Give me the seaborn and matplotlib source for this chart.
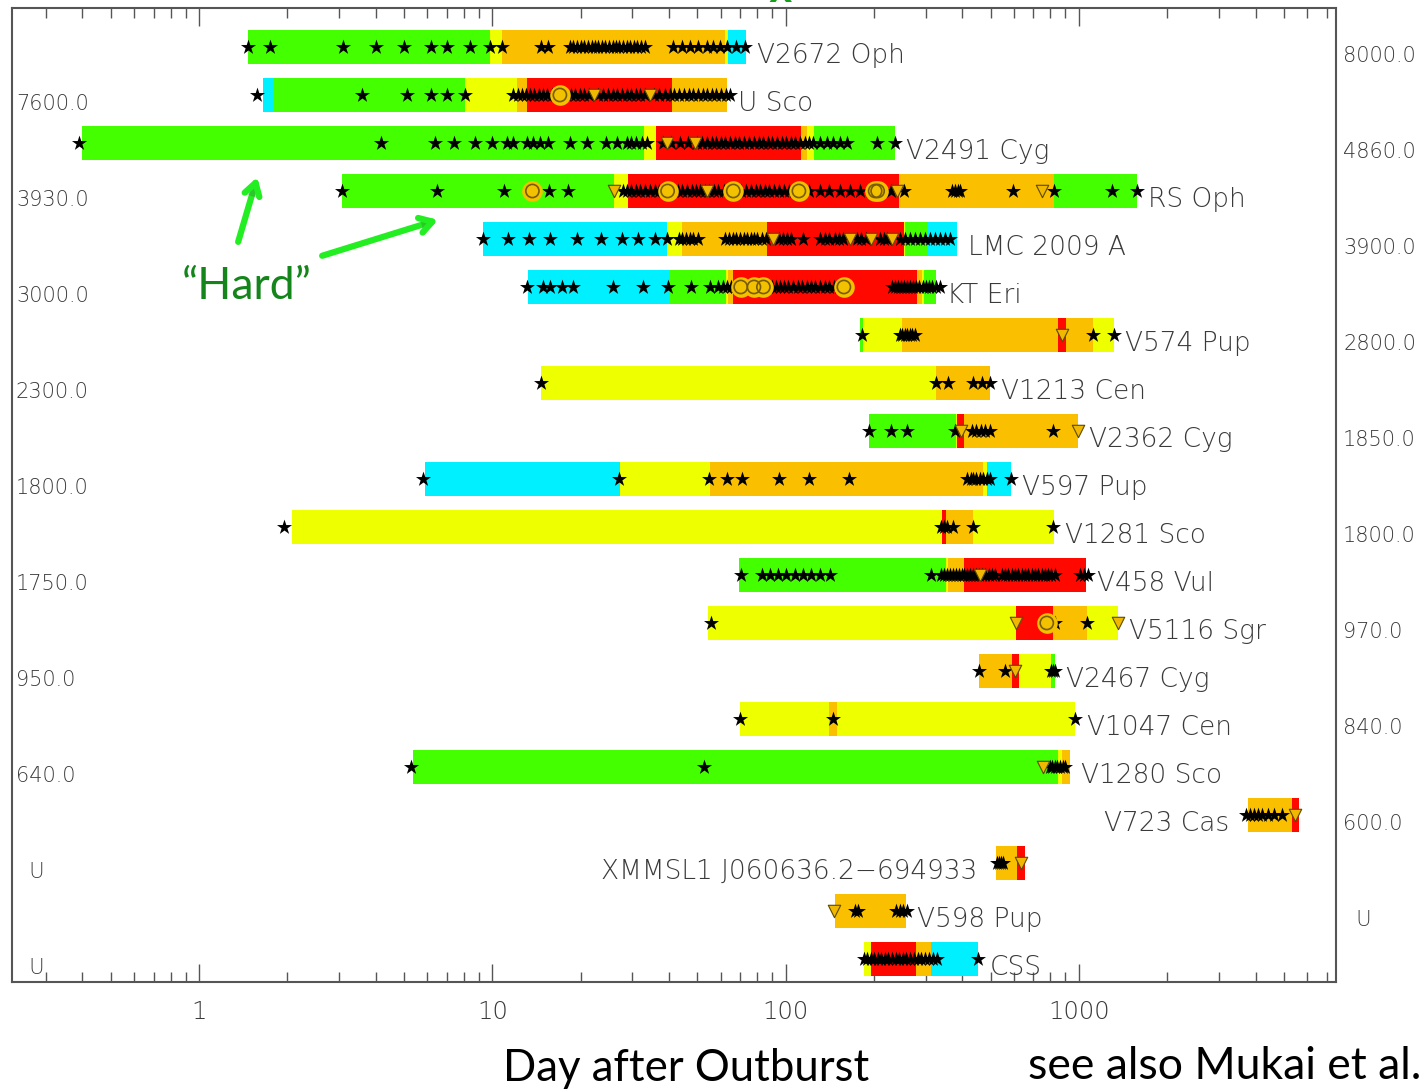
"""
plot.py - Supersoft X-ray phases of novae vs. day after outburst.
"""
import pandas as pd
import matplotlib
matplotlib.use('Agg')
import matplotlib.pyplot as plt
import matplotlib.ticker as mticker
import matplotlib.patheffects as pe
import seaborn as sns

# -- phase colours --
PHASE_COLORS = {'G': '#44ff00', 'Y': '#eeff00', 'O': '#fac000',
                'R': '#ff0800', 'C': '#00f0ff'}

# -- per nova data: segment edges (days), phase codes, marker days --
V2672_OPH_EDGES = [1.47, 9.8, 10.8, 62, 63.5, 73]
V2672_OPH_PHASES = ['G', 'Y', 'O', 'Y', 'C']
V2672_OPH_STARS = [1.47, 1.74, 3.1, 4.0, 5.0, 6.2, 7.0, 8.4, 9.8, 10.8, 14.7, 15.5,
                   18.4, 18.9, 19.5, 20.0, 20.6, 21.2, 21.8, 22.4, 23.0, 23.6, 24.3,
                   25.0, 25.7, 26.4, 27.1, 27.9, 28.7, 29.5, 30.3, 31.2, 32.1, 33.2,
                   41.3, 44.2, 47.2, 50.4, 53.8, 56.7, 59.7, 63, 68, 72.7]

U_SCO_EDGES = [1.65, 1.80, 8.1, 12.1, 13.1, 41.1, 63.3]
U_SCO_PHASES = ['C', 'G', 'Y', 'O', 'R', 'O']
U_SCO_STARS = [1.58, 3.6, 5.1, 6.2, 7.0, 8.1,
               11.8, 12.2, 12.6, 13.0, 13.4, 13.9, 14.4, 14.9, 15.4, 16.0, 16.6,
               17.8, 18.5, 19.2, 19.9, 20.6, 21.4, 23.0, 23.9, 24.8, 25.7, 26.7,
               27.7, 28.7, 29.8, 30.9, 32.0, 33.2, 35.7, 37.0, 38.9, 40.3, 41.8,
               43.4, 45.0, 46.7, 48.4, 50.2, 52.1, 54.0, 56.0, 58.1, 60.3, 62.5, 64.6]
U_SCO_TRI = [22.3, 34.5]
U_SCO_CIRC = [17.0]

V2491_CYG_EDGES = [0.40, 32.9, 36.2, 112.6, 118.6, 125, 236]
V2491_CYG_PHASES = ['G', 'Y', 'R', 'O', 'Y', 'G']
V2491_CYG_STARS = [0.39, 4.17, 6.38, 7.42, 8.73, 9.95, 11.2, 11.8, 13.1, 13.8, 14.5,
                   15.5, 18.4, 21.0, 24.5, 26.6, 28.7, 29.8, 31.0, 32.3, 33.7,
                   38.2, 40.8, 43.5, 46.5, 50, 52, 54, 56, 58, 60, 62, 64.5, 67,
                   69.5, 72, 75, 78, 81, 84, 87, 90, 93.5, 97, 100, 104, 108, 112,
                   116, 120, 124, 131, 138, 145.5, 153, 161.5, 204.5, 236]
V2491_CYG_TRI = [39.3, 49.1]

RS_OPH_EDGES = [3.08, 26.0, 29.0, 244, 823, 1574]
RS_OPH_PHASES = ['G', 'Y', 'R', 'O', 'G']
RS_OPH_STARS = [3.08, 6.49, 10.96, 15.6, 18.1, 28.0,
                28.7, 29.8, 30.9, 32.0, 33.2, 34.5, 35.8, 37.1, 38.4,
                41.3, 42.8, 44.4, 46.1, 47.8, 49.5, 51.1, 53, 55, 57, 59, 61.5,
                64, 68, 70.5, 73, 76, 79, 82, 85, 88, 91.5, 95, 99, 103, 107,
                120, 131, 141, 153, 166, 180, 195, 211, 228, 254,
                370, 378, 386, 394, 594, 823, 1300, 1574]
RS_OPH_TRI = [25.9, 53.8, 239, 747]
RS_OPH_CIRC = [13.7, 39.6, 66.3, 111, 202, 206]

LMC_2009A_EDGES = [9.32, 39.5, 44.2, 86.6, 253.5, 256, 304, 383]
LMC_2009A_PHASES = ['C', 'Y', 'O', 'R', 'Y', 'G', 'C']
LMC_2009A_STARS = [9.3, 11.3, 13.3, 15.7, 19.4, 23.5, 27.6, 31.5, 35.9, 39.5,
                   43.2, 44.5, 45.8, 47.1, 48.5, 50.4, 62.1, 64, 66, 68, 70, 72,
                   74, 76, 78, 80, 83, 86, 95, 98, 101, 104, 115, 131, 136, 141,
                   147, 152, 157, 175, 181, 188, 210, 216, 222, 245, 255, 265,
                   276, 287, 299, 311, 323, 336, 349, 363]
LMC_2009A_TRI = [90.8, 166, 196, 230]

KT_ERI_EDGES = [13.2, 40, 62.6, 63.8, 66.1, 280, 291, 296, 326]
KT_ERI_PHASES = ['C', 'G', 'Y', 'O', 'R', 'O', 'Y', 'G']
KT_ERI_STARS = [13.1, 14.9, 15.7, 17.3, 18.9, 25.7, 32.6, 39.8, 47.5, 55.3,
                58.9, 61, 63, 65, 67, 69, 71.5, 74, 76.5, 79, 81.5, 84, 87, 90,
                93, 96, 99, 102, 106, 110, 114, 118, 122, 126, 131, 136, 141,
                146, 152, 230, 236, 242, 248, 254, 260, 266, 272, 279, 286, 293,
                300, 308, 316, 326, 337]
KT_ERI_CIRC = [70.3, 78, 84, 158]

V574_PUP_EDGES = [179.4, 184, 250, 851, 903, 1119, 1318]
V574_PUP_PHASES = ['G', 'Y', 'O', 'R', 'O', 'Y']
V574_PUP_STARS = [182, 245, 250, 255, 260, 265, 270, 276, 1119, 1318]
V574_PUP_TRI = [878]

V1213_CEN_EDGES = [14.7, 325, 498]
V1213_CEN_PHASES = ['Y', 'O']
V1213_CEN_STARS = [14.6, 325, 357, 436, 466, 498]

V2362_CYG_EDGES = [192, 381, 385, 407, 993]
V2362_CYG_PHASES = ['G', 'Y', 'R', 'O']
V2362_CYG_STARS = [192, 229, 260, 378, 431, 446, 464, 479, 498, 818]
V2362_CYG_TRI = [396, 993]

V597_PUP_EDGES = [5.9, 27.2, 55.3, 472, 485, 587]
V597_PUP_PHASES = ['C', 'Y', 'O', 'Y', 'C']
V597_PUP_STARS = [5.82, 27.0, 55, 63, 71, 95, 120, 164, 416, 427, 436, 446, 459,
                  470, 485, 498, 587]

V1281_SCO_EDGES = [2.07, 341, 352, 434, 824]
V1281_SCO_PHASES = ['Y', 'R', 'O', 'Y']
V1281_SCO_STARS = [1.95, 339, 347, 355, 372, 434, 818]

V458_VUL_EDGES = [69.5, 351.5, 359, 405, 1055]
V458_VUL_PHASES = ['G', 'Y', 'O', 'R']
V458_VUL_STARS = [70.2, 82.9, 88.5, 94.3, 100, 107.6, 114.6, 122.1, 130.5, 141.4,
                  314, 339, 347, 355, 363, 371, 380, 389, 398, 407, 416, 426, 436,
                  446, 457, 468, 480, 492, 504, 516, 545, 560, 575, 590, 606, 622,
                  638, 655, 672, 690, 708, 727, 746, 766, 786, 806, 826, 1010,
                  1040, 1075]
V458_VUL_TRI = [460]

V5116_SGR_EDGES = [54.5, 610, 814, 1069, 1356]
V5116_SGR_PHASES = ['Y', 'R', 'O', 'Y']
V5116_SGR_STARS = [55.5, 829, 1063]
V5116_SGR_TRI = [610, 1356]
V5116_SGR_CIRC = [777]

V2467_CYG_EDGES = [458, 590, 626, 801, 829]
V2467_CYG_PHASES = ['O', 'R', 'Y', 'G']
V2467_CYG_STARS = [458, 560, 801, 815, 829]
V2467_CYG_TRI = [606]

V1047_CEN_EDGES = [70, 141, 149.5, 973]
V1047_CEN_PHASES = ['Y', 'O', 'Y']
V1047_CEN_STARS = [70, 145.5, 973]

V1280_SCO_EDGES = [5.38, 847, 874, 933]
V1280_SCO_PHASES = ['G', 'Y', 'O']
V1280_SCO_STARS = [5.3, 52.8, 797, 812, 828, 845, 862, 880, 900]
V1280_SCO_TRI = [756]

V723_CAS_EDGES = [3774, 5325, 5625]
V723_CAS_PHASES = ['O', 'R']
V723_CAS_STARS = [3706, 3826, 3950, 4080, 4210, 4410, 4640, 4940]
V723_CAS_TRI = [5470]

XMMSL1_EDGES = [523, 617, 653]
XMMSL1_PHASES = ['O', 'R']
XMMSL1_STARS = [526, 535, 544, 553]
XMMSL1_TRI = [636]

V598_PUP_EDGES = [147, 257]
V598_PUP_PHASES = ['O']
V598_PUP_STARS = [172, 176, 238, 245, 252, 260]
V598_PUP_TRI = [146]

CSS_EDGES = [185.5, 195, 279, 313, 454]
CSS_PHASES = ['Y', 'R', 'O', 'C']
CSS_STARS = [185, 190, 195, 200, 206, 212, 218, 224, 230, 237, 244, 251, 258, 266,
             274, 282, 290, 299, 308, 318, 328, 454]

# side labels: left column on odd rows, right column on even rows
LEFT_LABELS = ['7600.0', '3930.0', '3000.0', '2300.0', '1800.0',
               '1750.0', '950.0', '640.0', '  U', '  U']
RIGHT_LABELS = ['8000.0', '4860.0', '3900.0', '2800.0', '1850.0',
                '1800.0', '970.0', '840.0', '600.0', '  U']

ROWS = [
    ('V2672 Oph', V2672_OPH_EDGES, V2672_OPH_PHASES, V2672_OPH_STARS, [], []),
    ('U Sco', U_SCO_EDGES, U_SCO_PHASES, U_SCO_STARS, U_SCO_TRI, U_SCO_CIRC),
    ('V2491 Cyg', V2491_CYG_EDGES, V2491_CYG_PHASES, V2491_CYG_STARS, V2491_CYG_TRI, []),
    ('RS Oph', RS_OPH_EDGES, RS_OPH_PHASES, RS_OPH_STARS, RS_OPH_TRI, RS_OPH_CIRC),
    ('LMC 2009 A', LMC_2009A_EDGES, LMC_2009A_PHASES, LMC_2009A_STARS, LMC_2009A_TRI, []),
    ('KT Eri', KT_ERI_EDGES, KT_ERI_PHASES, KT_ERI_STARS, [], KT_ERI_CIRC),
    ('V574 Pup', V574_PUP_EDGES, V574_PUP_PHASES, V574_PUP_STARS, V574_PUP_TRI, []),
    ('V1213 Cen', V1213_CEN_EDGES, V1213_CEN_PHASES, V1213_CEN_STARS, [], []),
    ('V2362 Cyg', V2362_CYG_EDGES, V2362_CYG_PHASES, V2362_CYG_STARS, V2362_CYG_TRI, []),
    ('V597 Pup', V597_PUP_EDGES, V597_PUP_PHASES, V597_PUP_STARS, [], []),
    ('V1281 Sco', V1281_SCO_EDGES, V1281_SCO_PHASES, V1281_SCO_STARS, [], []),
    ('V458 Vul', V458_VUL_EDGES, V458_VUL_PHASES, V458_VUL_STARS, V458_VUL_TRI, []),
    ('V5116 Sgr', V5116_SGR_EDGES, V5116_SGR_PHASES, V5116_SGR_STARS, V5116_SGR_TRI, V5116_SGR_CIRC),
    ('V2467 Cyg', V2467_CYG_EDGES, V2467_CYG_PHASES, V2467_CYG_STARS, V2467_CYG_TRI, []),
    ('V1047 Cen', V1047_CEN_EDGES, V1047_CEN_PHASES, V1047_CEN_STARS, [], []),
    ('V1280 Sco', V1280_SCO_EDGES, V1280_SCO_PHASES, V1280_SCO_STARS, V1280_SCO_TRI, []),
    ('V723 Cas', V723_CAS_EDGES, V723_CAS_PHASES, V723_CAS_STARS, V723_CAS_TRI, []),
    ('XMMSL1 J060636.2\u2212694933', XMMSL1_EDGES, XMMSL1_PHASES, XMMSL1_STARS, XMMSL1_TRI, []),
    ('V598 Pup', V598_PUP_EDGES, V598_PUP_PHASES, V598_PUP_STARS, V598_PUP_TRI, []),
    ('CSS', CSS_EDGES, CSS_PHASES, CSS_STARS, [], []),
]
LABEL_LEFT = {'V723 Cas', 'XMMSL1 J060636.2\u2212694933'}

# -- style --
sns.set_style('white')
plt.rcParams['font.family'] = ['DejaVu Sans']
TEXT_GRAY = '#3a3a3a'
AXIS_GRAY = '#555555'


def build_tables():
    segs, marks = [], []
    for i, (name, edges, phases, stars, tris, circs) in enumerate(ROWS):
        for a, b, p in zip(edges[:-1], edges[1:], phases):
            segs.append({'row': i, 'start': a, 'end': b, 'phase': p})
        for kind, days in (('star', stars), ('tri', tris), ('circ', circs)):
            for d in days:
                marks.append({'row': i, 'day': d, 'kind': kind})
    return pd.DataFrame(segs), pd.DataFrame(marks)


def main():
    segs, marks = build_tables()

    fig = plt.figure(figsize=(14.27, 10.91), dpi=100)
    ax = fig.add_axes([12 / 1427, 109 / 1091, 1324 / 1427, 974 / 1091])
    ax.set_xscale('log')

    ax.barh(segs['row'], segs['end'] - segs['start'], left=segs['start'],
            height=0.69, color=segs['phase'].map(PHASE_COLORS), linewidth=0, zorder=1)

    stars = marks[marks['kind'] == 'star']
    tris = marks[marks['kind'] == 'tri']
    circs = marks[marks['kind'] == 'circ']
    sns.scatterplot(data=stars, x='day', y='row', marker='*', color='black',
                    s=130, linewidth=0, ax=ax, zorder=4, legend=False)
    sns.scatterplot(data=tris, x='day', y='row', marker='v', color='#f0b800',
                    edgecolor='#5c4a00', linewidth=0.8, s=80, ax=ax, zorder=5, legend=False)
    sns.scatterplot(data=circs, x='day', y='row', marker='o', color='#f2c200',
                    linewidth=0, s=220, ax=ax, zorder=5, legend=False)
    ax.scatter(circs['day'], circs['row'], marker='o', s=90, facecolors='none',
               edgecolors='#7a5c00', linewidths=1.2, zorder=6)

    # nova names next to bars
    for i, (name, edges, *_rest) in enumerate(ROWS):
        if name in LABEL_LEFT:
            ax.annotate(name, xy=(edges[0], i + 0.18), xytext=(-14, 0),
                        textcoords='offset points', ha='right', va='center',
                        fontsize=19, color=TEXT_GRAY, fontweight='light')
        else:
            ax.annotate(name, xy=(edges[-1], i + 0.18), xytext=(8, 0),
                        textcoords='offset points', ha='left', va='center',
                        fontsize=19, color=TEXT_GRAY, fontweight='light')

    # number columns
    ytrans = ax.get_yaxis_transform()
    for k, lab in enumerate(LEFT_LABELS):
        ax.text(0.003, 2 * k + 1 + 0.19, lab, transform=ytrans, ha='left', va='center',
                fontsize=15, color=TEXT_GRAY, fontweight='light')
    for k, lab in enumerate(RIGHT_LABELS):
        ax.text(1.0053, 2 * k + 0.19, lab, transform=ytrans, ha='left', va='center',
                fontsize=15, color=TEXT_GRAY, fontweight='light')

    # "Hard" annotation
    ax.text(1.46, 5.0, '\u201cHard\u201d', ha='center', va='center', fontsize=32,
            color='#14851a', family=['Lato', 'DejaVu Sans'])
    for tail, head in (((1.36, 4.06), (1.58, 2.71)), ((2.63, 4.35), (6.53, 3.60))):
        ann = ax.annotate('', xy=head, xytext=tail,
                          arrowprops=dict(arrowstyle='->,head_length=0.9,head_width=0.55',
                                          color='#22ee22', lw=4.5, shrinkA=0, shrinkB=0))
        ann.arrow_patch.set_path_effects([pe.SimplePatchShadow(offset=(1.5, -1.5), alpha=0.25),
                                          pe.Normal()])

    # axes
    ax.set_xlim(0.2304, 7525)
    ax.set_ylim(19.48, -0.8125)
    ax.set_xlabel('')
    ax.set_ylabel('')
    ax.set_yticks([])
    ax.xaxis.set_major_locator(mticker.LogLocator(base=10))
    ax.xaxis.set_minor_locator(mticker.LogLocator(base=10, subs=range(2, 10)))
    ax.xaxis.set_major_formatter(mticker.FuncFormatter(lambda v, _: f'{v:g}'))
    ax.xaxis.set_minor_formatter(mticker.NullFormatter())
    ax.tick_params(axis='x', which='both', direction='in', top=True, bottom=True,
                   color=AXIS_GRAY, labelcolor=TEXT_GRAY)
    ax.tick_params(axis='x', which='major', length=13, width=1, labelsize=17.5, pad=13)
    ax.tick_params(axis='x', which='minor', length=7, width=1)
    for lbl in ax.get_xticklabels():
        lbl.set_fontweight('light')
    for sp in ax.spines.values():
        sp.set_color(AXIS_GRAY)
        sp.set_linewidth(1.5)

    # figure texts
    fig.text(686 / 1427, 1 - 1081 / 1091, 'Day after Outburst', ha='center', va='baseline',
             fontsize=31.5, color='black', family=['Lato', 'DejaVu Sans'])
    fig.text(1028 / 1427, 1 - 1079 / 1091, 'see also Mukai et al.', ha='left', va='baseline',
             fontsize=32, color='black', family=['Lato', 'DejaVu Sans'])
    fig.text(780 / 1427, 1 + 6 / 1091, 'X', ha='center', va='center', fontsize=22,
             color='#14a01a', fontweight='bold')

    fig.savefig('out.png', dpi=100, facecolor='white')
    plt.close(fig)


if __name__ == '__main__':
    main()
